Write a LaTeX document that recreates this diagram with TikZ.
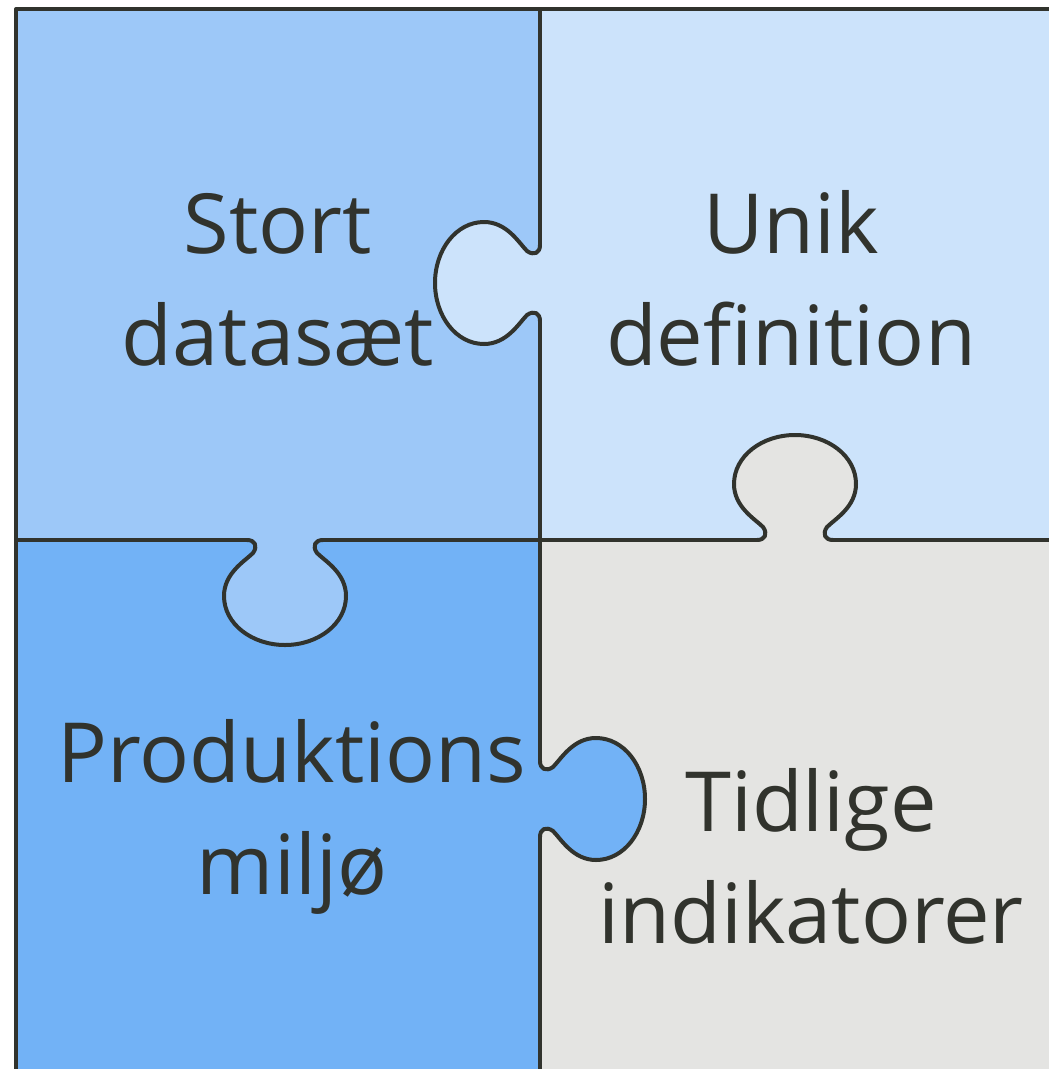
\documentclass[tikz,border=0pt]{standalone}
\usepackage{fontspec}
\setmainfont{Open Sans}
\definecolor{pieceStort}{HTML}{9DC8F8}
\definecolor{pieceUnik}{HTML}{CCE3FB}
\definecolor{pieceProd}{HTML}{72B2F6}
\definecolor{pieceTidlig}{HTML}{E4E4E2}
\definecolor{inkGrey}{HTML}{31332D}

\begin{document}
\begin{tikzpicture}
[x=1pt,y=-1pt,%
  lineDecorate/.style={draw=inkGrey,line width=4pt,line cap=round,line join=round},%
  labelDecorate/.style={text=inkGrey,align=center,inner sep=0pt,font=\fontsize{83}{112}\selectfont},%
  tabOutline/.style={insert path={(-38,0) .. controls (-30,0) and (-27,6) .. (-32,13)
    .. controls (-40,21) and (-61,33) .. (-61,56)
    .. controls (-61,84) and (-33,105) .. (0,105)
    .. controls (33,105) and (61,84) .. (61,56)
    .. controls (61,33) and (40,21) .. (32,13)
    .. controls (27,6) and (30,0) .. (38,0)}},%
  pics/tab/.style={code={
    \path[fill=#1,tabOutline] -- (38,-3) -- (-38,-3) -- cycle;
    \path[lineDecorate,tabOutline];
  }}]
\useasboundingbox (0,0) rectangle (1049,1069);
\clip (0,0) rectangle (1049,1069);
%% the four pieces
\fill[pieceStort]  (16,9)   rectangle (540,540);
\fill[pieceUnik]   (540,9)  rectangle (1070,540);
\fill[pieceProd]   (16,540) rectangle (540,1080);
\fill[pieceTidlig] (540,540) rectangle (1070,1080);
%% tabs and the lines between the pieces
\pic[rotate=-90] at (540,283) {tab=pieceUnik};
\pic[rotate=90]  at (540,799) {tab=pieceProd};
\pic             at (285,540) {tab=pieceStort};
\pic[rotate=180] at (795,540) {tab=pieceTidlig};
\coordinate (top) at (540,9);
\coordinate (bottom) at (540,1080);
\coordinate (left) at (16,540);
\coordinate (right) at (1070,540);
\draw[lineDecorate] (top) -- (540,245) (540,321) -- (540,761) (540,837) -- (bottom);
\draw[lineDecorate] (left) -- (247,540) (323,540) -- (757,540) (833,540) -- (right);
\draw[lineDecorate] (16,1080) -- (16,9) -- (1070,9);
%% piece labels
\foreach \nodename/\x/\y/\words in {
  stort/278/280/{Stort\\datasæt}, unik/791/278/{Unik\\definition},
  prod/292/817/{Produktions\\miljø}, tidlig/811/856/{Tidlige\\indikatorer}}
{
  \node[labelDecorate] (\nodename) at (\x,\y) {\words};
}
\end{tikzpicture}
\end{document}
